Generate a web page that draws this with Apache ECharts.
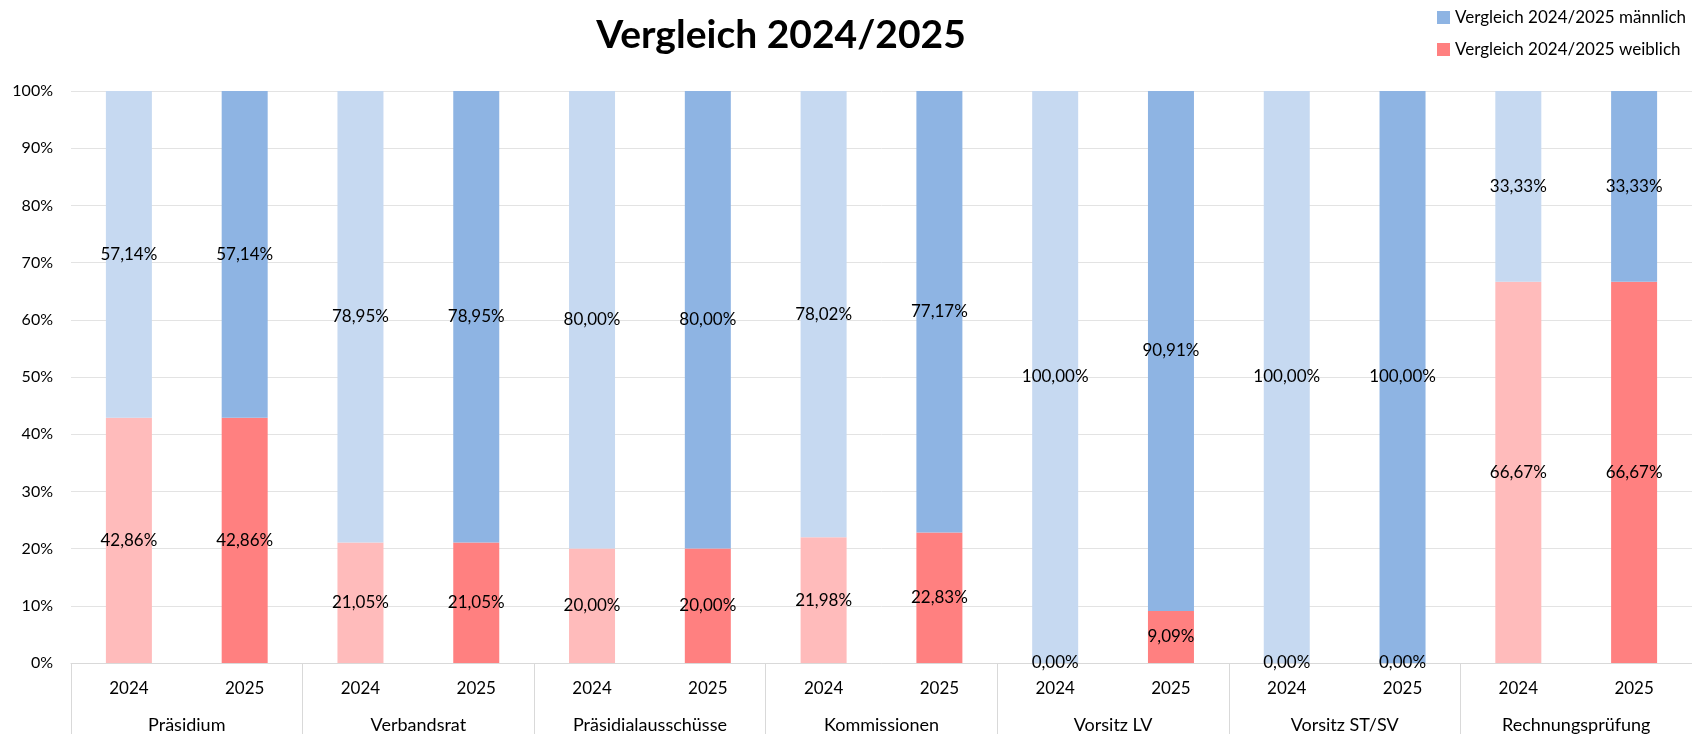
<!DOCTYPE html>
<html>
<head>
<meta charset="utf-8">
<script src="https://cdn.jsdelivr.net/npm/echarts@6/dist/echarts.min.js"></script>
<style>
html,body{margin:0;padding:0;background:#fff;}
#chart{width:1692px;height:734px;}
</style>
</head>
<body>
<div id="chart"></div>
<script>
const groups = ['Präsidium','Verbandsrat','Präsidialausschüsse','Kommissionen','Vorsitz LV','Vorsitz ST/SV','Rechnungsprüfung'];
const years = ['2024','2025'];
const maleValues =   [57.14, 57.14, 78.95, 78.95, 80.00, 80.00, 78.02, 77.17, 100.00, 90.91, 100.00, 100.00, 33.33, 33.33];
const femaleValues = [42.86, 42.86, 21.05, 21.05, 20.00, 20.00, 21.98, 22.83, 0.00, 9.09, 0.00, 0.00, 66.67, 66.67];
const yTicks = [0,10,20,30,40,50,60,70,80,90,100];
const legendNames = ['Vergleich 2024/2025 männlich','Vergleich 2024/2025 weiblich'];

const colors = {
  male2024: '#C6D9F1', male2025: '#8EB4E3',
  female2024: '#FFBBBB', female2025: '#FF8080'
};

const categories = [];
groups.forEach(g => years.forEach(y => categories.push(y)));

function fmt(v){ return v.toFixed(2).replace('.', ',') + '%'; }

const font = 'Lato, "Noto Sans", sans-serif';

const maleData = maleValues.map((v,i)=>({value:v,itemStyle:{color: i%2===0?colors.male2024:colors.male2025}}));
const femaleData = femaleValues.map((v,i)=>({value:v,itemStyle:{color: i%2===0?colors.female2024:colors.female2025}}));

const labelCfg = {
  show:true, position:'inside', color:'#000', fontSize:17, fontFamily:font,
  formatter: p => fmt(p.value)
};

const chart = echarts.init(document.getElementById('chart'));
chart.setOption({
  animation:false,
  title:{
    text:'Vergleich 2024/2025',
    left:776, top:11, textAlign:'center',
    textStyle:{fontFamily:font, fontWeight:'bold', fontSize:39, color:'#000'}
  },
  legend:{
    data:legendNames,
    orient:'vertical',
    left:1432, top:4,
    itemWidth:13, itemHeight:13, itemGap:15,
    icon:'rect',
    textStyle:{fontFamily:font, fontSize:17, color:'#000'}
  },
  grid:{left:71, right:-20, top:91, bottom:71, containLabel:false},
  xAxis:[{
    type:'category',
    data:categories,
    position:'bottom',
    axisLine:{show:true, lineStyle:{color:'#d9d9d9', width:1}},
    axisTick:{show:true, length:71, interval:(i)=> i%2===0, lineStyle:{color:'#d9d9d9'}},
    axisLabel:{interval:0, margin:17, fontSize:17, fontFamily:font, color:'#000'}
  },{
    type:'category',
    data:groups,
    position:'bottom',
    gridIndex:0,
    axisLine:{show:false},
    axisTick:{show:false},
    axisLabel:{interval:0, margin:53, fontSize:18, fontFamily:font, color:'#000'}
  }],
  yAxis:{
    type:'value', min:yTicks[0], max:yTicks[yTicks.length-1], interval:10,
    axisLine:{show:false}, axisTick:{show:false},
    splitLine:{lineStyle:{color:'#e3e3e3', width:1}},
    axisLabel:{margin:18, fontSize:16, fontFamily:font, color:'#000', formatter:'{value}%'}
  },
  series:[{
    name:legendNames[1], type:'bar', stack:'total', xAxisIndex:0,
    barWidth:46, color:colors.female2025,
    data:femaleData, label:labelCfg
  },{
    name:legendNames[0], type:'bar', stack:'total', xAxisIndex:0,
    barWidth:46, color:colors.male2025,
    data:maleData, label:labelCfg
  }]
});
</script>
</body>
</html>
